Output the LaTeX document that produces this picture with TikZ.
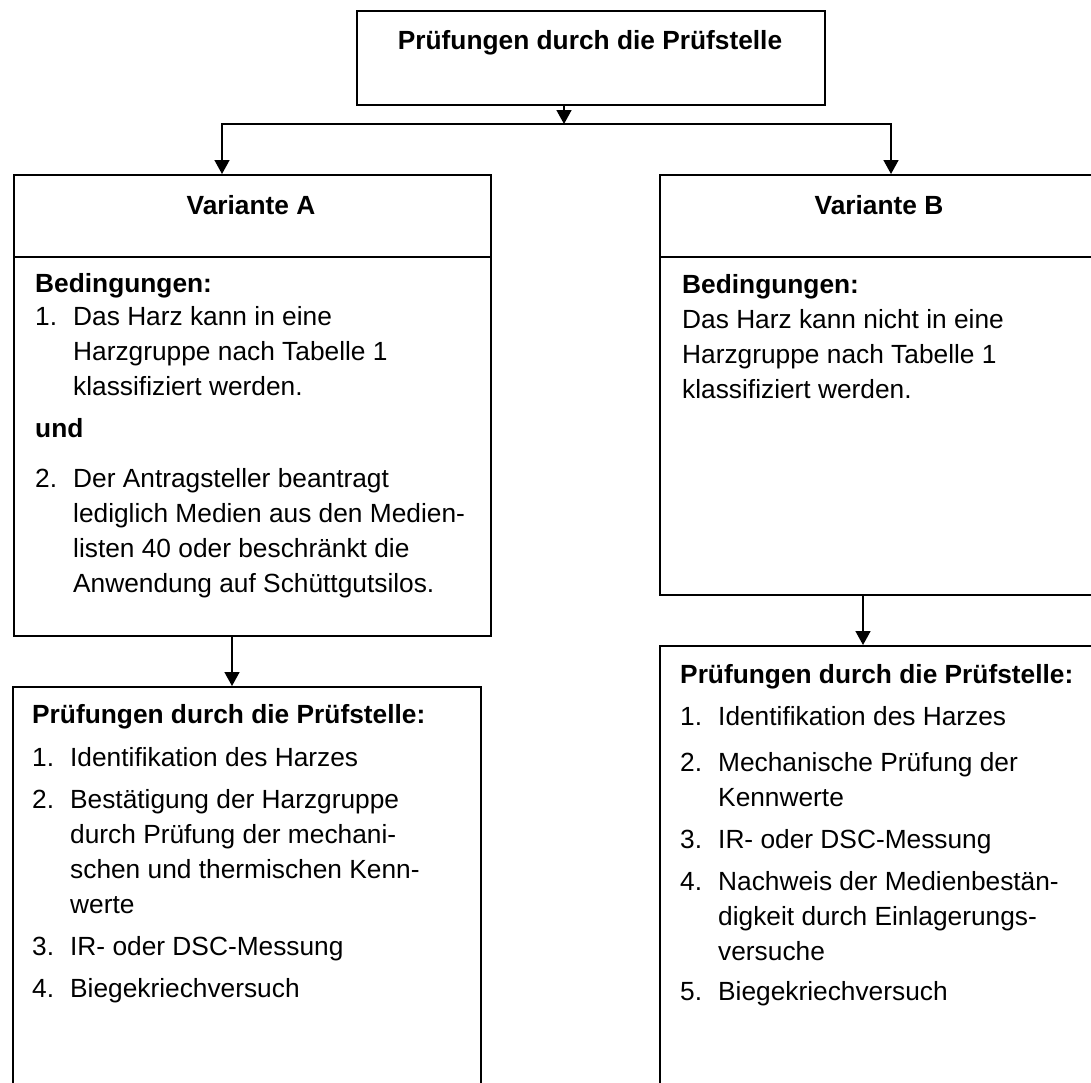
\documentclass[tikz,border=0pt]{standalone}
\usepackage{fontspec}
\setmainfont{Liberation Sans}
\usetikzlibrary{arrows.meta}
\newcommand\nitem[2]{\makebox[38pt][l]{#1}\parbox[t]{400pt}{\raggedright #2}}
\newcommand\plain[1]{\parbox[t]{430pt}{\raggedright #1}}
\begin{document}
\begin{tikzpicture}[x=1pt,y=-1pt,
  lw/.style={line width=1.6pt},
  boxline/.style={draw, line width=1.6pt, inner sep=0pt, anchor=north west},
  arr/.style={line width=1.6pt, -{Triangle[width=15pt,length=14pt]}},
  txt/.style={anchor=base west, inner sep=0pt, font=\fontsize{26.3}{35}\selectfont},
  ttl/.style={anchor=base, inner sep=0pt, font=\fontsize{26.3}{35}\selectfont\bfseries}]
\useasboundingbox (0,0) rectangle (1091,1082);
\clip (0,0) rectangle (1091,1082);

% boxes
\node[boxline, minimum width=468pt, minimum height=94pt] (topbox) at (356,10) {};
\node[boxline, minimum width=477pt, minimum height=461pt] (varA) at (13,174) {};
\node[boxline, minimum width=440pt, minimum height=420pt] (varB) at (659,174) {};
\node[boxline, minimum width=468pt, minimum height=500pt] (pA) at (12,686) {};
\node[boxline, minimum width=440pt, minimum height=500pt] (pB) at (659,645) {};
\draw[lw] ([yshift=-83pt]varA.north west) -- ([yshift=-83pt]varA.north east);
\draw[lw] ([yshift=-83pt]varB.north west) -- ([yshift=-83pt]varB.north east);

% connectors
\coordinate (hub) at (564,124);
\coordinate (hl) at (222,124);
\coordinate (hr) at (891,124);
\coordinate (ax) at (232,0);
\coordinate (bx) at (863,0);
\draw[arr] (topbox.south -| hub) -- (hub);
\draw[lw, line cap=rect] (hl) -- (hr);
\draw[arr] (hl) -- (hl |- varA.north);
\draw[arr] (hr) -- (hr |- varB.north);
\draw[arr] (varA.south -| ax) -- (pA.north -| ax);
\draw[arr] (varB.south -| bx) -- (pB.north -| bx);

% titles
\node[ttl] (tTop) at (590,49) {Prüfungen durch die Prüfstelle};
\node[ttl] (tA) at (251,214) {Variante A};
\node[ttl] (tB) at (879,214) {Variante B};

% Variante A
\node[txt] (aBed) at (35,292) {\bfseries Bedingungen:};
\node[txt] (aI1) at (35,325) {\nitem{1.}{Das Harz kann in eine\\Harzgruppe nach Tabelle 1\\klassifiziert werden.}};
\node[txt] (aUnd) at (35,437) {\bfseries und};
\node[txt] (aI2) at (35,487) {\nitem{2.}{Der Antragsteller beantragt\\lediglich Medien aus den Medien-\\listen 40 oder beschränkt die\\Anwendung auf Schüttgutsilos.}};

% Variante B
\node[txt] (bBed) at (682,293) {\bfseries Bedingungen:};
\node[txt] (bT) at (682,328) {\plain{Das Harz kann nicht in eine\\Harzgruppe nach Tabelle 1\\klassifiziert werden.}};

% Pruefungen A
\node[txt] (paH) at (32,723) {\bfseries Prüfungen durch die Prüfstelle:};
\node[txt] (pa1) at (32,766) {\nitem{1.}{Identifikation des Harzes}};
\node[txt] (pa2) at (32,808) {\nitem{2.}{Bestätigung der Harzgruppe\\durch Prüfung der mechani-\\schen und thermischen Kenn-\\werte}};
\node[txt] (pa3) at (32,955) {\nitem{3.}{IR- oder DSC-Messung}};
\node[txt] (pa4) at (32,997) {\nitem{4.}{Biegekriechversuch}};

% Pruefungen B
\node[txt] (pbH) at (680,683) {\bfseries Prüfungen durch die Prüfstelle:};
\node[txt] (pb1) at (680,725) {\nitem{1.}{Identifikation des Harzes}};
\node[txt] (pb2) at (680,771) {\nitem{2.}{Mechanische Prüfung der\\Kennwerte}};
\node[txt] (pb3) at (680,848) {\nitem{3.}{IR- oder DSC-Messung}};
\node[txt] (pb4) at (680,890) {\nitem{4.}{Nachweis der Medienbestän-\\digkeit durch Einlagerungs-\\versuche}};
\node[txt] (pb5) at (680,1000) {\nitem{5.}{Biegekriechversuch}};
\end{tikzpicture}
\end{document}
